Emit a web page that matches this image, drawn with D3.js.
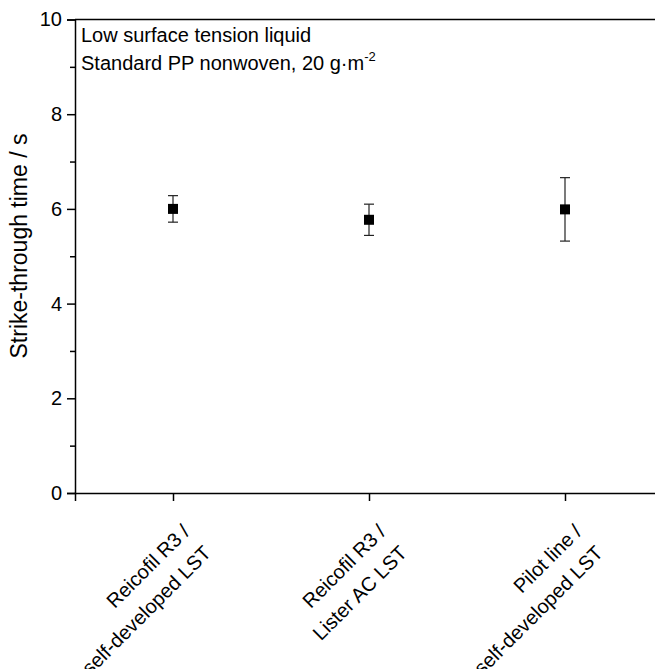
<!DOCTYPE html>
<html>
<head>
<meta charset="utf-8">
<script src="https://cdn.jsdelivr.net/npm/d3@7/dist/d3.min.js"></script>
<style>
  html, body { margin: 0; padding: 0; background: #fff; }
  svg { display: block; font-family: "Liberation Sans", Arial, sans-serif; }
</style>
</head>
<body>
<svg id="chart" width="655" height="669"></svg>
<script>
// Sample groups (two-line tick labels)
const categories = [
  ["Reicofil R3 /", "self-developed LST"],
  ["Reicofil R3 /", "Lister AC LST"],
  ["Pilot line /", "self-developed LST"]
];
const categoryPos = [1, 2, 3];
// Mean strike-through time (s) and standard deviation
const meanTime = [6.00, 5.77, 5.99];
const sdTime = [0.28, 0.33, 0.67];
const yMajorTicks = [0, 2, 4, 6, 8, 10];
const yMinorTicks = [1, 3, 5, 7, 9];
const noteLines = ["Low surface tension liquid", "Standard PP nonwoven, 20 g\u00B7m"];

const svg = d3.select("#chart");
const plotL = 75, plotR = 663, plotT = 19.5, plotB = 493;

const x = d3.scaleLinear().domain([0.5, 3.5]).range([plotL, plotR]);
const y = d3.scaleLinear().domain([0, 10]).range([plotB, plotT]);

// frame lines (top and right)
svg.append("line").attr("x1", plotL).attr("x2", plotR).attr("y1", plotT).attr("y2", plotT)
  .attr("stroke", "#000").attr("stroke-width", 1.5);
svg.append("line").attr("x1", plotR).attr("x2", plotR).attr("y1", plotT).attr("y2", plotB)
  .attr("stroke", "#000").attr("stroke-width", 1.5);

// y axis: major ticks with labels
const yAxis = svg.append("g").attr("transform", `translate(${plotL},0)`)
  .call(d3.axisLeft(y).tickValues(yMajorTicks).tickSize(8).tickPadding(5).tickFormat(d3.format("d")));
// y axis: minor ticks
const yMinor = svg.append("g").attr("transform", `translate(${plotL},0)`)
  .call(d3.axisLeft(y).tickValues(yMinorTicks).tickSize(5).tickFormat(""));
yMinor.select(".domain").remove();

// x axis
const xAxis = svg.append("g").attr("transform", `translate(0,${plotB})`)
  .call(d3.axisBottom(x).tickValues(categoryPos).tickSize(8).tickFormat(""));

[yAxis, xAxis, yMinor].forEach(g => {
  g.selectAll(".domain").attr("stroke", "#000").attr("stroke-width", 1.5);
  g.selectAll(".tick line").attr("stroke", "#000").attr("stroke-width", 1.5);
});
yAxis.selectAll(".tick text").attr("font-size", 20).attr("fill", "#000")
  .attr("font-family", "Liberation Sans, Arial, sans-serif");

// rotated two-line category labels
categoryPos.forEach((c, i) => {
  const g = svg.append("g")
    .attr("transform", `translate(${x(c) + 18},533) rotate(-45)`);
  categories[i].forEach((line, j) => {
    g.append("text").attr("x", 0).attr("y", j * 30)
      .attr("text-anchor", "end").attr("font-size", 20).attr("fill", "#000")
      .text(line);
  });
});

// y axis title
svg.append("text")
  .attr("transform", `translate(27,246) rotate(-90)`)
  .attr("text-anchor", "middle").attr("font-size", 23).attr("fill", "#000")
  .text("Strike-through time / s");

// note text
const note = svg.append("g");
note.append("text").attr("x", 81).attr("y", 42).attr("font-size", 20).text(noteLines[0]);
const t2 = note.append("text").attr("x", 81).attr("y", 70).attr("font-size", 20);
t2.append("tspan").text(noteLines[1]);
t2.append("tspan").attr("font-size", 13).attr("dy", -9).text("-2");

// error bars
const capW = 10;
const eb = svg.append("g").attr("stroke", "#222").attr("stroke-width", 1.2);
categoryPos.forEach((c, i) => {
  const cx = x(c), hi = y(meanTime[i] + sdTime[i]), lo = y(meanTime[i] - sdTime[i]);
  eb.append("line").attr("x1", cx).attr("x2", cx).attr("y1", hi).attr("y2", lo);
  eb.append("line").attr("x1", cx - capW / 2).attr("x2", cx + capW / 2).attr("y1", hi).attr("y2", hi);
  eb.append("line").attr("x1", cx - capW / 2).attr("x2", cx + capW / 2).attr("y1", lo).attr("y2", lo);
});

// square markers
const ms = 10;
svg.append("g").selectAll("rect").data(meanTime).join("rect")
  .attr("x", (d, i) => x(categoryPos[i]) - ms / 2)
  .attr("y", d => y(d) - ms / 2)
  .attr("width", ms).attr("height", ms)
  .attr("fill", "#000");
</script>
</body>
</html>
